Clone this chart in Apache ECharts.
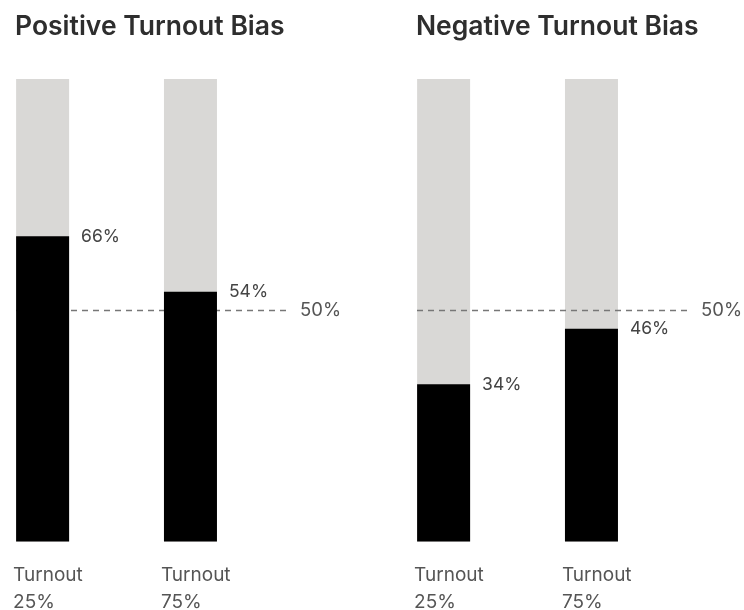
<!DOCTYPE html>
<html>
<head>
<meta charset="utf-8">
<script src="https://cdn.jsdelivr.net/npm/echarts@6/dist/echarts.min.js"></script>
<style>
  html, body { margin: 0; padding: 0; background: #ffffff; }
  #chart { width: 744px; height: 610px; }
</style>
</head>
<body>
<div id="chart"></div>
<script>
// ---- data ----
const panelTitles = ['Positive Turnout Bias', 'Negative Turnout Bias'];
const categories = ['Turnout\n25%', 'Turnout\n75%'];
const positiveValues = [66, 54];
const negativeValues = [34, 46];
const referenceLevel = 50;
const totalLevel = 100;

const FONT = 'Inter, "Noto Sans", sans-serif';
const chart = echarts.init(document.getElementById('chart'), null, { renderer: 'canvas' });

const panels = [positiveValues, negativeValues];
const gridLefts = [16, 417];

const grids = [], xAxes = [], yAxes = [], series = [], titles = [];
panels.forEach((vals, i) => {
  titles.push({
    text: panelTitles[i], left: gridLefts[i] - 6, top: 9,
    textStyle: { fontFamily: FONT, fontSize: 26.5, fontWeight: 600, color: '#2e2e2e' }
  });
  grids.push({ left: gridLefts[i], top: 79, width: 275, height: 462.5 });
  xAxes.push({ type: 'value', gridIndex: i, min: -0.18, max: 1.68, show: false });
  yAxes.push({ type: 'value', gridIndex: i, min: 0, max: totalLevel, show: false });
  // full-height background bars
  series.push({
    type: 'bar', xAxisIndex: i, yAxisIndex: i, barWidth: 53, barGap: '-100%', z: 2,
    itemStyle: { color: '#d9d8d6' },
    data: categories.map((c, k) => [k, totalLevel]),
    label: {
      show: true, position: [0, '100%'], align: 'left', verticalAlign: 'top',
      offset: [-3, 20], fontFamily: FONT, fontSize: 19, lineHeight: 27, color: '#555555',
      formatter: p => categories[p.dataIndex]
    },
    markLine: {
      silent: true, symbol: 'none', z: 5,
      lineStyle: { type: [6, 5], color: '#777777', width: 1.3 },
      label: { show: true, position: 'end', distance: 9, formatter: referenceLevel + '%',
               fontFamily: FONT, fontSize: 18.5, color: '#555555' },
      data: [{ yAxis: referenceLevel }]
    }
  });
  // share bars
  series.push({
    type: 'bar', xAxisIndex: i, yAxisIndex: i, barWidth: 53, barGap: '-100%', z: 10,
    itemStyle: { color: '#000000' },
    data: vals.map((v, k) => [k, v]),
    label: {
      show: true, position: ['100%', 0], align: 'left', verticalAlign: 'middle',
      offset: [12, 0], fontFamily: FONT, fontSize: 17.5, color: '#444444',
      formatter: p => p.value[1] + '%'
    }
  });
});

chart.setOption({
  animation: false,
  backgroundColor: '#ffffff',
  title: titles,
  grid: grids,
  xAxis: xAxes,
  yAxis: yAxes,
  series: series
});
</script>
</body>
</html>
